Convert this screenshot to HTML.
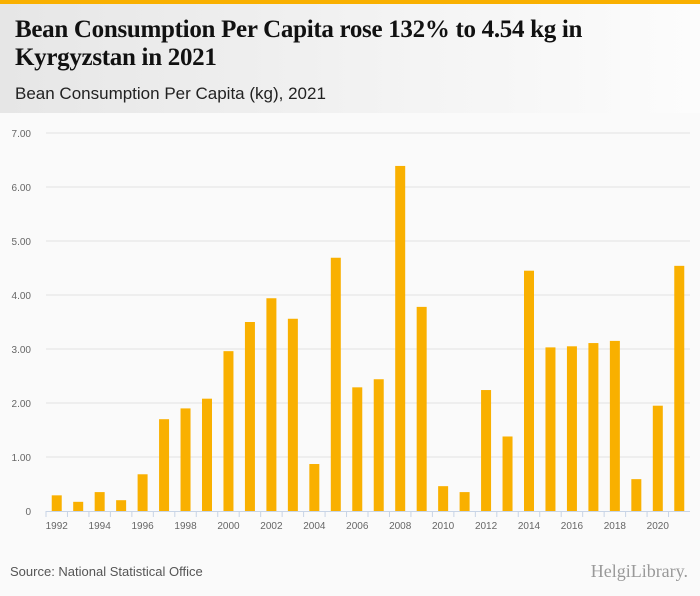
<!DOCTYPE html>
<html><head><meta charset="utf-8"><style>
body{margin:0;width:700px;height:596px;background:#fafafa;font-family:"Liberation Sans",sans-serif;overflow:hidden;position:relative}
#hdr{position:absolute;left:0;top:0;width:700px;height:113px;background:linear-gradient(90deg,#e6e6e6,#f4f4f4 60%,#fcfcfc);border-top:4px solid #f9b000;box-sizing:border-box}
#title{position:absolute;left:15px;top:12px;font-family:"Liberation Serif",serif;font-weight:bold;font-size:25px;line-height:28px;color:#111;letter-spacing:-0.3px}
#sub{position:absolute;left:15px;top:80px;font-size:17px;color:#222}
#src{position:absolute;left:10px;top:564px;font-size:13px;color:#555}
#logo{position:absolute;right:12px;top:561px;font-family:"Liberation Serif",serif;font-size:18px;color:#999}
</style></head><body>
<div id="hdr">
<div id="title">Bean Consumption Per Capita rose 132% to 4.54 kg in<br>Kyrgyzstan in 2021</div>
<div id="sub">Bean Consumption Per Capita (kg), 2021</div>
</div>
<svg id="chart" width="700" height="596" style="position:absolute;left:0;top:0"></svg>
<div id="src">Source: National Statistical Office</div>
<div id="logo">HelgiLibrary.</div>
<script>
const years=[1992,1993,1994,1995,1996,1997,1998,1999,2000,2001,2002,2003,2004,2005,2006,2007,2008,2009,2010,2011,2012,2013,2014,2015,2016,2017,2018,2019,2020,2021];
const values=[0.29,0.17,0.35,0.20,0.68,1.70,1.90,2.08,2.96,3.50,3.94,3.56,0.87,4.69,2.29,2.44,6.39,3.78,0.46,0.35,2.24,1.38,4.45,3.03,3.05,3.11,3.15,0.59,1.95,4.54];
const yTicks=[0,1,2,3,4,5,6,7];
const yTickLabels=["0","1.00","2.00","3.00","4.00","5.00","6.00","7.00"];
const svg=document.getElementById('chart');const NS='http://www.w3.org/2000/svg';
const x0=46,x1=690,y0=511,yTop=133,yMax=7;
const band=(x1-x0)/years.length;
const y=v=>y0-(v/yMax)*(y0-yTop);
const xc=i=>x0+band*(i+0.5);
function mk(t,a){const e=document.createElementNS(NS,t);for(const k in a)e.setAttribute(k,a[k]);svg.appendChild(e);return e;}
yTicks.forEach((t,i)=>{
 if(t>0){const g=mk('line',{x1:x0,x2:x1,y1:y(t),y2:y(t),stroke:'#e2e2e2','stroke-width':1});
 
 }
 const l=mk('text',{x:31,y:y(t)+4,'text-anchor':'end','font-size':10,fill:'#666','font-family':'Liberation Sans, sans-serif'});
 l.textContent=yTickLabels[i];
 
 
});
const ax=mk('line',{x1:x0,x2:x1,y1:y0+0.5,y2:y0+0.5,stroke:'#c8d4e6','stroke-width':1});


years.forEach((yr,i)=>{
 const b=mk('rect',{x:xc(i)-5,y:y(values[i]),width:10,height:y0-y(values[i]),fill:'#f9b000'});
 
 
 const tk=mk('line',{x1:x0+band*i,x2:x0+band*i,y1:y0,y2:y0+6,stroke:'#c8d4e6'});
 
 
 if(i%2===0){const l=mk('text',{x:xc(i),y:y0+18,'text-anchor':'middle','font-size':10,fill:'#666','font-family':'Liberation Sans, sans-serif'});
 l.textContent=yr;
 
 }
});
</script>
</body></html>
